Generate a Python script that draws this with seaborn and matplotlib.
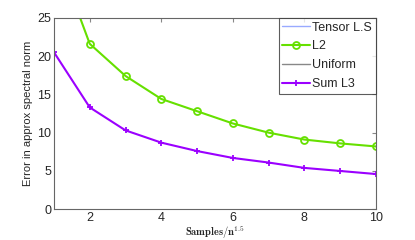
import numpy as np
import pandas as pd
import matplotlib
matplotlib.use('Agg')
import matplotlib.pyplot as plt
import seaborn as sns

# values
samples = [1, 2, 3, 4, 5, 6, 7, 8, 9, 10]
l2 = [34.2, 21.6, 17.4, 14.4, 12.8, 11.2, 10.0, 9.1, 8.6, 8.2]
sum_l3 = [20.5, 13.3, 10.3, 8.7, 7.6, 6.7, 6.1, 5.4, 5.0, 4.6]
# these two series never appear inside the plotted range
tensor_ls = []
uniform = []

sns.set_style('white')
plt.rcParams['font.family'] = ['Liberation Sans', 'DejaVu Sans']
plt.rcParams['mathtext.fontset'] = 'cm'

fig = plt.figure(figsize=(4.15, 2.4), dpi=100)
ax = fig.add_axes([0.130, 0.128, 0.776, 0.798])

ax.plot(tensor_ls, tensor_ls, color='#99aaff', lw=1, label='Tensor L.S')
sns.lineplot(x=samples, y=l2, ax=ax, color='#66e000', lw=1.5, marker='o',
             markersize=5, markerfacecolor='none', markeredgecolor='#66e000',
             markeredgewidth=1.3, label='L2')
ax.plot(uniform, uniform, color='#888888', lw=1, label='Uniform')
sns.lineplot(x=samples, y=sum_l3, ax=ax, color='#9b00ff', lw=1.5, marker='+',
             markersize=5, markeredgecolor='#9b00ff', markeredgewidth=1.3,
             label='Sum L3')

ax.set_xlim(1, 10)
ax.set_ylim(0, 25)
ax.set_xticks([2, 4, 6, 8, 10])
ax.set_yticks([0, 5, 10, 15, 20, 25])
ax.tick_params(direction='in', length=3, labelsize=9, top=True, right=True,
               color='#888888', pad=2)
for s in ax.spines.values():
    s.set_color('#666666')
    s.set_linewidth(0.8)

ax.set_ylabel('Error in approx spectral norm', fontsize=8, labelpad=3)
ax.set_xlabel(r'$\mathbf{Samples/n^{1.5}}$', fontsize=7.5, labelpad=0)

leg = ax.legend(loc='upper right', fontsize=9, frameon=True, fancybox=False,
                borderpad=0.3, labelspacing=0.55, handlelength=2.2,
                handletextpad=0.2, borderaxespad=0)
leg.get_frame().set_edgecolor('#333333')
leg.get_frame().set_linewidth(0.8)

fig.savefig('out.png', dpi=100)
